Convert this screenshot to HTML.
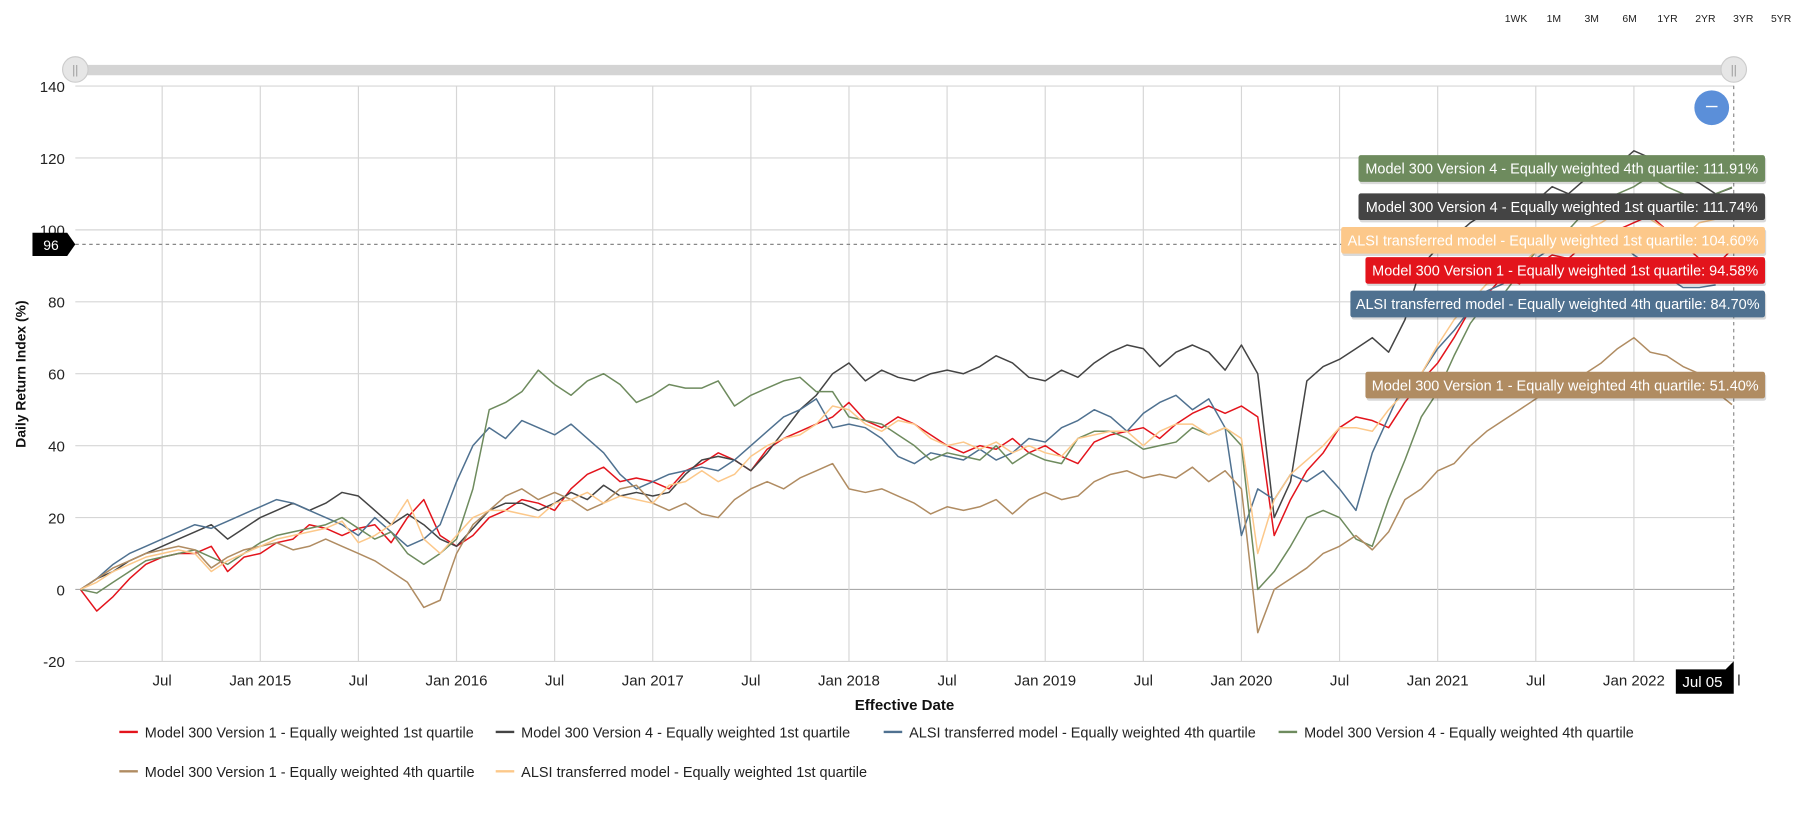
<!DOCTYPE html>
<html><head><meta charset="utf-8"><style>
html,body{margin:0;padding:0;background:#fff;width:1816px;height:835px;overflow:hidden}
svg{font-family:"Liberation Sans",sans-serif;display:block}
</style></head><body>
<svg id="chart" width="1816" height="835" viewBox="0 0 1568 721">
<g id="grid"></g>
<g id="axes"></g>
<g id="series"></g>
<g id="overlay"></g>
</svg>
<script>
const yTicks=[-20,0,20,40,60,80,100,120,140];
const xTickLabels=["Jul","Jan 2015","Jul","Jan 2016","Jul","Jan 2017","Jul","Jan 2018","Jul","Jan 2019","Jul","Jan 2020","Jul","Jan 2021","Jul","Jan 2022"];
const xTickMonths=[5,11,17,23,29,35,41,47,53,59,65,71,77,83,89,95];
const seriesNames=["Model 300 Version 1 - Equally weighted 1st quartile","Model 300 Version 4 - Equally weighted 1st quartile","ALSI transferred model - Equally weighted 4th quartile","Model 300 Version 4 - Equally weighted 4th quartile","Model 300 Version 1 - Equally weighted 4th quartile","ALSI transferred model - Equally weighted 1st quartile"];
const seriesColors=["#e3141c","#444444","#4f7190","#6e8b5e","#b08c62","#fcc88a"];
const red=[0,-6,-2,3,7,9,10,10,12,5,9,10,13,14,18,17,15,17,18,13,20,25,15,12,15,20,22,25,24,22,28,32,34,30,31,30,28,33,35,38,36,33,39,42,44,46,48,52,47,45,48,46,43,40,38,40,39,42,38,40,37,35,41,43,44,45,42,46,49,51,49,51,48,15,25,33,38,45,48,47,45,52,58,63,70,78,82,87,85,90,93,92,96,97,100,102,104,100,96,92,90,94.6];
const black=[0,3,5,8,10,12,14,16,18,14,17,20,22,24,22,24,27,26,22,18,21,18,14,12,17,22,24,24,22,24,27,25,29,26,27,26,27,32,36,37,36,33,38,44,50,54,60,63,58,61,59,58,60,61,60,62,65,63,59,58,61,59,63,66,68,67,62,66,68,66,61,68,60,20,30,58,62,64,67,70,66,75,90,95,98,102,105,106,104,108,112,110,114,116,118,122,120,118,115,113,110,111.7];
const blue=[0,3,7,10,12,14,16,18,17,19,21,23,25,24,22,20,18,15,20,16,12,14,18,30,40,45,42,47,45,43,46,42,38,32,28,30,32,33,34,33,36,40,44,48,50,53,45,46,45,42,37,35,38,37,36,39,36,38,42,41,45,47,50,48,44,49,52,54,50,53,45,15,28,25,32,30,33,28,22,38,48,58,60,67,72,78,83,85,90,92,95,97,98,100,97,93,90,87,84,84,84.7];
const green=[0,-1,2,5,8,9,10,11,9,7,10,13,15,16,17,18,20,17,14,16,10,7,10,14,28,50,52,55,61,57,54,58,60,57,52,54,57,56,56,58,51,54,56,58,59,55,55,48,47,46,43,40,36,38,37,36,40,35,38,36,35,42,44,44,42,39,40,41,45,43,45,40,0,5,12,20,22,20,14,12,25,36,48,55,65,74,80,82,88,94,96,100,105,108,110,112,115,112,110,108,110,111.9];
const brown=[0,3,6,8,10,11,12,11,6,9,11,12,13,11,12,14,12,10,8,5,2,-5,-3,10,18,22,26,28,25,27,25,22,24,28,29,24,22,24,21,20,25,28,30,28,31,33,35,28,27,28,26,24,21,23,22,23,25,21,25,27,25,26,30,32,33,31,32,31,34,30,33,28,-12,0,3,6,10,12,15,11,16,25,28,33,35,40,44,47,50,53,56,58,60,63,67,70,66,65,62,60,55,51.4];
const orange=[0,2,5,7,9,10,11,10,5,8,10,12,14,15,16,17,19,13,15,18,25,14,10,15,20,22,22,21,20,24,25,27,24,26,25,24,29,30,33,30,32,37,40,42,43,46,51,50,46,44,47,46,42,40,41,39,41,38,40,38,37,42,43,44,44,40,44,46,46,43,45,42,10,25,32,36,40,45,45,44,50,55,60,68,75,80,85,86,90,94,95,98,100,102,105,107,103,100,98,102,103,104.6];
const allSeries=[red,black,blue,green,brown,orange];
const tooltipText=["Model 300 Version 4 - Equally weighted 4th quartile: 111.91%","Model 300 Version 4 - Equally weighted 1st quartile: 111.74%","ALSI transferred model - Equally weighted 1st quartile: 104.60%","Model 300 Version 1 - Equally weighted 1st quartile: 94.58%","ALSI transferred model - Equally weighted 4th quartile: 84.70%","Model 300 Version 1 - Equally weighted 4th quartile: 51.40%"];
const tooltipColors=["#6e8b5e","#444444","#fcc88a","#e3141c","#4f7190","#b08c62"];
const rangeButtons=["1WK","1M","3M","6M","1YR","2YR","3YR","5YR"];

const NS="http://www.w3.org/2000/svg";
const L=65,R=1497;
function xs(m){return 140+(m-5)*14.12;}
function ys(v){return 509-v*3.105;}
function mk(tag,attrs,parent,text){const e=document.createElementNS(NS,tag);for(const k in attrs)e.setAttribute(k,attrs[k]);if(text!==undefined)e.textContent=text;parent.appendChild(e);return e;}
const grid=document.getElementById('grid'),axes=document.getElementById('axes'),ser=document.getElementById('series'),ov=document.getElementById('overlay');

yTicks.forEach(t=>{
  const l=mk('line',{x1:L,x2:R,y1:ys(t),y2:ys(t),stroke:t===0?'#aaa':'#d6d6d6','stroke-width':1},grid);
  
  
  const tx=mk('text',{x:56,y:ys(t)+5,'text-anchor':'end','font-size':13,fill:'#222'},axes,String(t));
  
  
});
xTickMonths.forEach((m,i)=>{
  const l=mk('line',{x1:xs(m),x2:xs(m),y1:74,y2:571,stroke:'#d6d6d6','stroke-width':1},grid);
  
  
  const tx=mk('text',{x:xs(m),y:592,'text-anchor':'middle','font-size':13,fill:'#222'},axes,xTickLabels[i]);
  
  
});
let t=mk('text',{x:R+3,y:592,'font-size':13,fill:'#222'},axes,'l');
t=mk('text',{x:781,y:613,'text-anchor':'middle','font-size':13,'font-weight':'bold',fill:'#111'},axes,'Effective Date');


t=mk('text',{x:22,y:323,'text-anchor':'middle','font-size':12,'font-weight':'bold',fill:'#111',transform:'rotate(-90 22 323)'},axes,'Daily Return Index (%)');



allSeries.forEach((arr,si)=>{
  const d=arr.map((v,i)=>(i?'L':'M')+xs(i).toFixed(1)+','+ys(v).toFixed(1)).join(' ');
  const p=mk('path',{d:d,fill:'none',stroke:seriesColors[si],'stroke-width':1.3,'stroke-linejoin':'round'},ser);
  
  
});

let s=mk('rect',{x:64,y:56,width:1434,height:9,rx:4,fill:'#d4d4d4'},ov);


[65,1497].forEach(cx=>{
  const h=mk('circle',{cx:cx,cy:60,r:11,fill:'#e6e6e6',stroke:'#ccc'},ov);
  
  
  mk('text',{x:cx,y:64,'text-anchor':'middle','font-size':10,fill:'#999'},ov,'||');
});
rangeButtons.forEach((b,i)=>{
  const bt=mk('text',{x:1309+i*32.7,y:19,'text-anchor':'middle','font-size':9,fill:'#222'},ov,b);
  
  
});
let zb=mk('circle',{cx:1478,cy:93,r:15,fill:'#5b8fd9'},ov);


mk('line',{x1:1473,x2:1483,y1:92,y2:92,stroke:'#fff','stroke-width':1.2},ov);
let ch=mk('line',{x1:1497,x2:1497,y1:74,y2:571,stroke:'#888','stroke-dasharray':'3,3'},ov);


ch=mk('line',{x1:65,x2:1497,y1:211,y2:211,stroke:'#888','stroke-dasharray':'3,3'},ov);


let fl=mk('path',{d:'M28,201 H58 L65,211 L58,221 H28 Z',fill:'#000'},ov);


mk('text',{x:44,y:216,'text-anchor':'middle','font-size':12,fill:'#fff'},ov,'96');
fl=mk('path',{d:'M1447,578 H1490 L1497,571 V599 H1447 Z',fill:'#000'},ov);


mk('text',{x:1470,y:593,'text-anchor':'middle','font-size':13,fill:'#fff'},ov,'Jul 05');
const tipBoxes=[[1173,134,351],[1173,167,351],[1158,196,366],[1179,222,345],[1166,251,358],[1179,321,345]];
tooltipText.forEach((txt,i)=>{
  const b=tipBoxes[i];
  const g=mk('g',{},ov);
  
  
  mk('rect',{x:b[0]+1,y:b[1]+2,width:b[2],height:23,rx:2,fill:'rgba(0,0,0,0.15)'},g);
  mk('rect',{x:b[0],y:b[1],width:b[2],height:23,rx:2,fill:tooltipColors[i]},g);
  mk('text',{x:b[0]+b[2]/2,y:b[1]+16,'text-anchor':'middle','font-size':12.5,fill:'#fff'},g,txt);
});
const legPos=[[103,633],[428,633],[763,633],[1104,633],[103,667],[428,667]];
seriesNames.forEach((n,i)=>{
  const g=mk('g',{},ov);
  
  
  mk('line',{x1:legPos[i][0],x2:legPos[i][0]+16,y1:legPos[i][1]-1,y2:legPos[i][1]-1,stroke:seriesColors[i],'stroke-width':2},g);
  mk('text',{x:legPos[i][0]+22,y:legPos[i][1]+4,'font-size':12.5,fill:'#222'},g,n);
});
</script>
</body></html>
